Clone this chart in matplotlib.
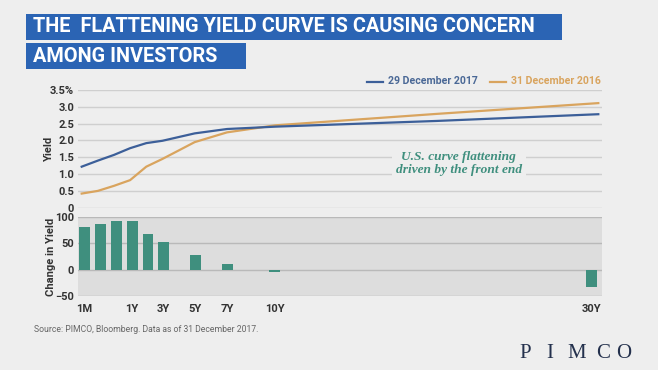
import matplotlib
matplotlib.use("Agg")
import matplotlib.pyplot as plt
from matplotlib.patches import Rectangle

# ---------------- data ----------------
tenors = ["1M", "3M", "6M", "1Y", "2Y", "3Y", "5Y", "7Y", "10Y", "20Y", "30Y"]
tenor_pos = [0, 1, 2, 3, 4, 5, 7, 9, 12, 22, 32]
yield_2017 = [1.22, 1.40, 1.57, 1.77, 1.92, 1.99, 2.21, 2.34, 2.41, 2.58, 2.78]
yield_2016 = [0.42, 0.50, 0.65, 0.82, 1.22, 1.45, 1.95, 2.24, 2.45, 2.79, 3.11]

bar_tenors = ["1M", "3M", "6M", "1Y", "2Y", "3Y", "5Y", "7Y", "10Y", "30Y"]
bar_pos = [0, 1, 2, 3, 4, 5, 7, 9, 12, 32]
change_bp = [81, 87, 92, 92, 68, 53, 28, 11, -4, -33]

xtick_labels = ["1M", "1Y", "3Y", "5Y", "7Y", "10Y", "30Y"]
xtick_pos = [0, 3, 5, 7, 9, 12, 32]
yield_ticks = [0, 0.5, 1.0, 1.5, 2.0, 2.5, 3.0, 3.5]
yield_ticklabels = ["0", "0.5", "1.0", "1.5", "2.0", "2.5", "3.0", "3.5%"]
change_ticks = [-50, 0, 50, 100]

series_labels = ["29 December 2017", "31 December 2016"]
logo_letters = ["P", "I", "M", "C", "O"]

# ---------------- style ----------------
W, H = 658, 370
BG = "#eeeeee"
BLUE = "#3c5f99"
ORANGE = "#d9a45e"
TEAL = "#3f8f7e"
TITLE_BOX = "#2b64b4"
TXT = "#333333"

plt.rcParams["font.family"] = ["Roboto", "DejaVu Sans"]

fig = plt.figure(figsize=(W / 100, H / 100), dpi=100, facecolor=BG)


def fx(px):
    return px / W


def fy(py):
    return 1 - py / H


left, right = 78.3, 601.7
# top axes (yield)
ax1 = fig.add_axes([fx(left), fy(207.7), fx(right - left), fy(90) - fy(207.7)])
ax1.set_facecolor(BG)
ax1.set_ylim(0, 3.5)
ax1.set_xlim(-0.21, 32.21)
for s in ax1.spines.values():
    s.set_visible(False)
ax1.set_yticks(yield_ticks)
ax1.set_yticklabels(yield_ticklabels)
ax1.set_xticks([])
ax1.tick_params(axis="y", length=0, pad=3, labelsize=8, labelcolor=TXT)
for t in ax1.get_yticklabels():
    t.set_fontweight("bold")
ax1.grid(axis="y", color="#cfcfcf", linewidth=1.0, zorder=0)
ax1.set_axisbelow(True)
ax1.plot(tenor_pos, yield_2016, color=ORANGE, linewidth=1.6, zorder=3)
ax1.plot(tenor_pos, yield_2017, color=BLUE, linewidth=1.6, zorder=4)
ax1.set_ylabel("Yield", fontsize=8, color=TXT, fontweight="bold")

# annotation with background that hides gridlines
ax1.text(0.727, 0.376, "U.S. curve flattening\ndriven by the front end",
         transform=ax1.transAxes, ha="center", va="center",
         fontsize=9.6, style="italic", fontweight="bold",
         family=["Liberation Serif", "DejaVu Serif"], color=TEAL,
         linespacing=1.05,
         bbox=dict(facecolor=BG, edgecolor="none", pad=3), zorder=5)

# bottom axes (change)
ax2 = fig.add_axes([fx(left), fy(295.7), fx(right - left), fy(217.3) - fy(295.7)])
ax2.set_facecolor("#dddddd")
ax2.set_ylim(-50, 100)
ax2.set_xlim(-0.40, 32.66)
for s in ax2.spines.values():
    s.set_visible(False)
ax2.set_yticks(change_ticks)
ax2.tick_params(axis="y", length=0, pad=3, labelsize=8, labelcolor=TXT)
ax2.set_xticks(xtick_pos)
ax2.set_xticklabels(xtick_labels)
ax2.tick_params(axis="x", length=0, pad=6, labelsize=8, labelcolor=TXT)
for t in ax2.get_yticklabels() + ax2.get_xticklabels():
    t.set_fontweight("bold")
ax2.grid(axis="y", color="#b9b9b9", linewidth=1.0, zorder=0)
ax2.set_axisbelow(True)
ax2.bar(bar_pos, change_bp, width=0.68, color=TEAL, zorder=3)
ax2.set_ylabel("Change in Yield", fontsize=8, color=TXT, fontweight="bold")

# align y labels
ax1.yaxis.set_label_coords(-0.047, 0.5)
ax2.yaxis.set_label_coords(-0.042, 0.5)

# legend (manual, figure coordinates)
ly = fy(81.5)
fig.add_artist(plt.Line2D([fx(367), fx(383)], [ly, ly], color=BLUE, linewidth=1.6))
fig.text(fx(388), ly, series_labels[0], color="#4a6896", fontsize=7.6,
         fontweight="bold", va="center", ha="left")
fig.add_artist(plt.Line2D([fx(490), fx(506)], [ly, ly], color=ORANGE, linewidth=1.6))
fig.text(fx(511), ly, series_labels[1], color=ORANGE, fontsize=7.6,
         fontweight="bold", va="center", ha="left")

# title boxes
fig.add_artist(Rectangle((fx(26), fy(39.5)), fx(561.5 - 26), fy(14) - fy(39.5),
                         transform=fig.transFigure, facecolor=TITLE_BOX, edgecolor="none"))
fig.add_artist(Rectangle((fx(26), fy(68.5)), fx(245.5 - 26), fy(43) - fy(68.5),
                         transform=fig.transFigure, facecolor=TITLE_BOX, edgecolor="none"))
fig.text(fx(33), fy(27), "THE  FLATTENING YIELD CURVE IS CAUSING CONCERN",
         color="white", fontsize=14.3, fontweight="bold", va="center", ha="left")
fig.text(fx(33), fy(56), "AMONG INVESTORS",
         color="white", fontsize=14.3, fontweight="bold", va="center", ha="left")

# source
fig.text(fx(34), fy(330), "Source: PIMCO, Bloomberg. Data as of 31 December 2017.",
         color="#666666", fontsize=6.2, va="center", ha="left")

# logo (letter-spaced)
logo_x = [525.5, 550, 577, 603.5, 623.5]
for ch, xp in zip(logo_letters, logo_x):
    fig.text(fx(xp), fy(353), ch, color="#24314d", fontsize=15,
             family=["Liberation Serif", "DejaVu Serif"], va="center", ha="center")

fig.savefig("out.png", dpi=100, facecolor=BG)
